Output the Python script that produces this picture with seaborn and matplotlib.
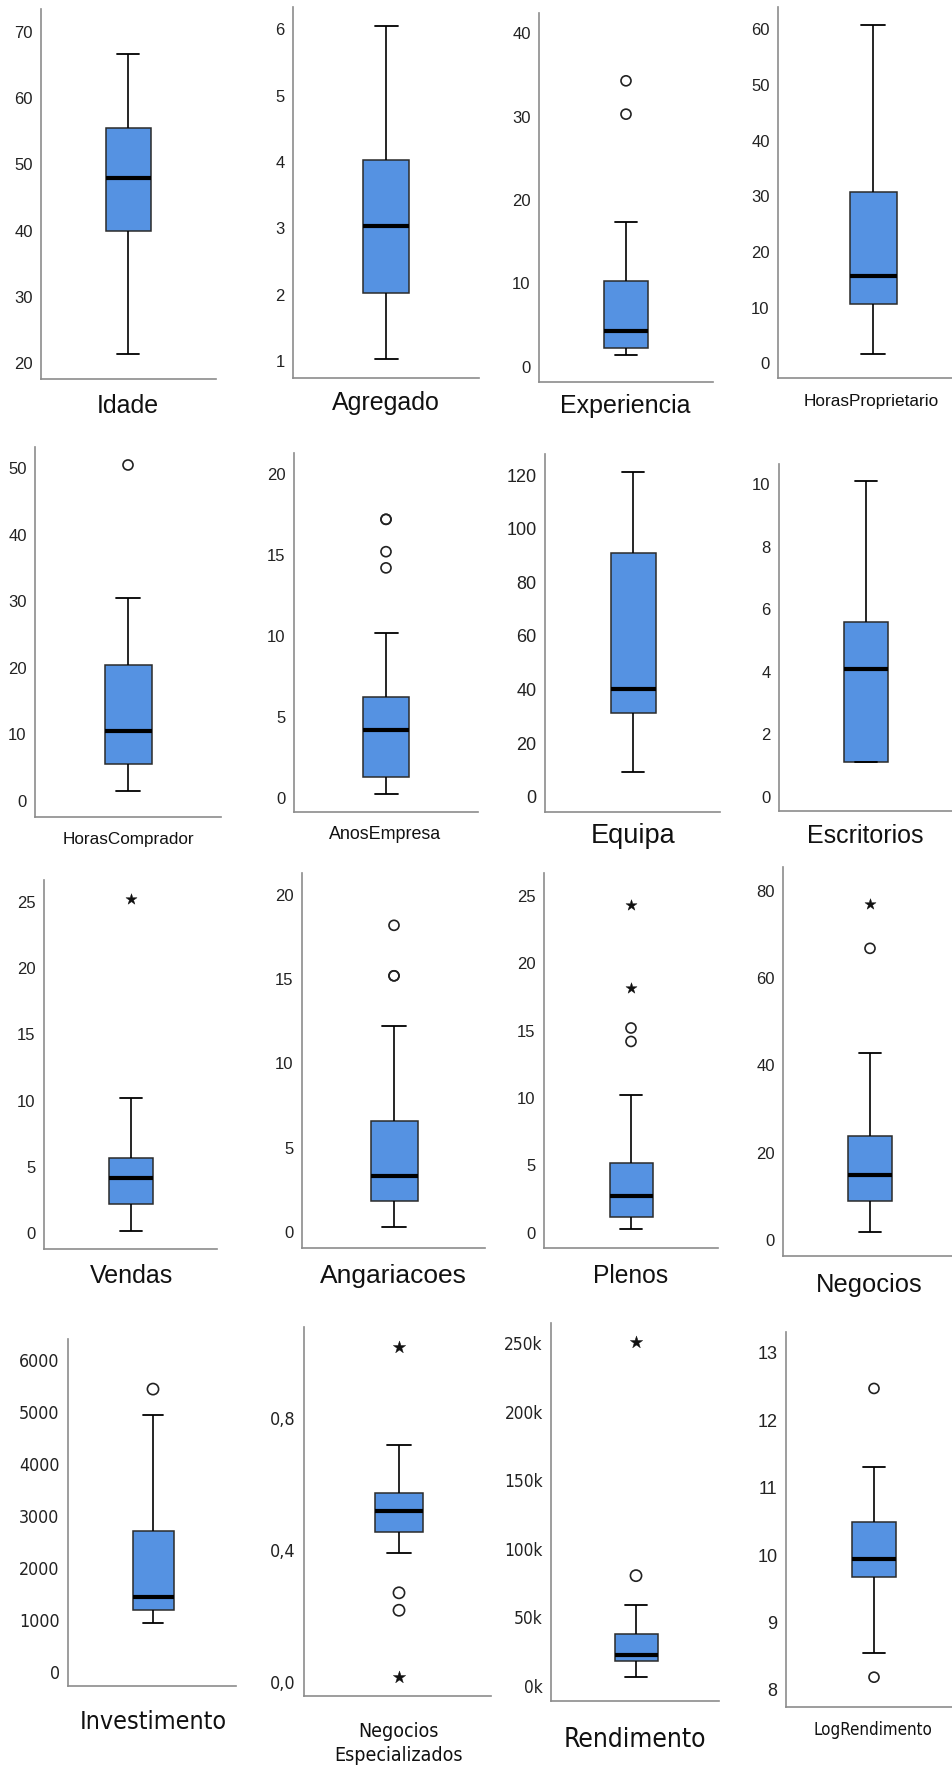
import matplotlib
matplotlib.use("Agg")
import matplotlib.pyplot as plt
from matplotlib import font_manager
from matplotlib.font_manager import FontProperties
import numpy as np
import pandas as pd
import seaborn as sns

# ---------------- data ----------------
variables = ["Idade", "Agregado", "Experiencia", "HorasProprietario",
             "HorasComprador", "AnosEmpresa", "Equipa", "Escritorios",
             "Vendas", "Angariacoes", "Plenos", "Negocios",
             "Investimento", "Negocios\nEspecializados", "Rendimento", "LogRendimento"]

whisker_low = [21.4, 1.03, 1.4, 1.6, 1.5, 0.25, 9.3, 1.1,
               0.2, 0.3, 0.25, 1.75, 930, 0.392, 6800, 8.55]
q1 = [40.0, 2.03, 2.3, 10.6, 5.5, 1.26, 31.2, 1.1,
      2.2, 1.8, 1.2, 8.9, 1190, 0.454, 18500, 9.67]
median = [47.9, 3.03, 4.3, 15.6, 10.5, 4.2, 40.3, 4.1,
          4.2, 3.3, 2.75, 14.9, 1440, 0.517, 22600, 9.94]
q3 = [55.5, 4.03, 10.3, 30.7, 20.4, 6.2, 91.0, 5.6,
      5.7, 6.6, 5.2, 23.8, 2700, 0.572, 37900, 10.49]
whisker_high = [66.6, 6.05, 17.4, 60.7, 30.5, 10.2, 121.2, 10.1,
                10.2, 12.2, 10.25, 42.9, 4950, 0.719, 59400, 11.30]

outliers_circle = [[], [], [30.3, 34.3], [],
                   [50.5], [14.2, 15.2, 17.2, 17.2], [], [],
                   [], [15.2, 15.2, 18.2], [14.2, 15.2], [66.8],
                   [5440], [0.217, 0.270], [80500], [8.19, 12.47]]
outliers_star = [[], [], [], [],
                 [], [], [], [],
                 [25.2], [], [18.2, 24.3], [76.9],
                 [], [0.015, 1.018], [251000], []]

tick_values = [[20, 30, 40, 50, 60, 70], [1, 2, 3, 4, 5, 6], [0, 10, 20, 30, 40],
               [0, 10, 20, 30, 40, 50, 60],
               [0, 10, 20, 30, 40, 50], [0, 5, 10, 15, 20], [0, 20, 40, 60, 80, 100, 120],
               [0, 2, 4, 6, 8, 10],
               [0, 5, 10, 15, 20, 25], [0, 5, 10, 15, 20], [0, 5, 10, 15, 20, 25],
               [0, 20, 40, 60, 80],
               [0, 1000, 2000, 3000, 4000, 5000, 6000], [0.0, 0.4, 0.8],
               [0, 50000, 100000, 150000, 200000, 250000], [8, 9, 10, 11, 12, 13]]
tick_labels = [[str(v) for v in tv] for tv in tick_values]
tick_labels[13] = ["0,0", "0,4", "0,8"]
tick_labels[14] = ["0k", "50k", "100k", "150k", "200k", "250k"]

# ---------------- layout (pixels in a 952 x 1766 canvas) ----------------
W, H = 952, 1766
frames = [(41, 9, 216, 379), (293, 7, 479, 378), (539, 13, 713, 382), (778, 7, 952, 378),
          (35, 447, 221, 817), (294, 453, 478, 812), (545, 454, 720, 812), (779, 464, 952, 811),
          (44, 880, 217, 1249), (302, 873, 485, 1248), (544, 873, 718, 1248), (783, 867, 952, 1256),
          (68, 1339, 236, 1686), (304, 1327, 491, 1696), (551, 1323, 719, 1701), (786, 1332, 952, 1707)]
refs = [(70, 31.7, 20, 363.3), (6, 29.3, 1, 361), (40, 33.3, 0, 366.7), (60, 29.3, 0, 363.3),
        (50, 468.3, 0, 801), (20, 474, 0, 797.7), (120, 475, 0, 796.7), (10, 484.3, 0, 796.7),
        (25, 901.7, 0, 1233.3), (20, 895, 0, 1231.7), (25, 896, 0, 1232.7), (80, 890.7, 0, 1240),
        (6000, 1360, 0, 1671.7), (0.8, 1418.3, 0.0, 1681.7), (250000, 1343.3, 0, 1686),
        (13, 1352.7, 8, 1690)]
box_center = [128, 386, 626, 873, 128, 386, 633, 866, 131, 394, 631, 870, 153, 399, 636, 874]
box_px = [45, 46, 44, 47, 47, 46, 45, 44, 44, 47, 43, 44, 41, 48, 43, 44]
label_pos = [(128, 413), (386, 410), (625, 413), (871, 406),
             (128, 844), (385, 839), (633, 843), (865, 843),
             (132, 1283), (393, 1283), (631, 1283), (869, 1292),
             (153, 1729), (398, 1737), (635, 1747), (873, 1735)]
label_size = [18, 18, 18, 12.4, 12.3, 12.9, 19.5, 18, 18, 19, 17.7, 18.4, 23, 17, 23, 14.5]
# target widths (px) for the narrow-looking labels of the last row
label_width = {12: [148], 13: [80, 128], 14: [143], 15: [118]}
tick_width = {12: 41, 13: 26, 14: 39}
tick_size = [12] * 6 + [13, 12] + [12] * 4 + [16, 16, 16, 13]

# fonts
names = {f.name for f in font_manager.fontManager.ttflist}
REG = "Liberation Sans" if "Liberation Sans" in names else "DejaVu Sans"
if "Liberation Sans Narrow" in names:
    NARROW = dict(family="Liberation Sans Narrow")
elif any(f.name == "DejaVu Sans" and str(f.stretch) in ("condensed", "semi-condensed", "600", "700")
         for f in font_manager.fontManager.ttflist):
    NARROW = dict(family="DejaVu Sans", stretch="condensed")
else:
    NARROW = dict(family=REG)

sns.set_theme(style="white")
plt.rcParams["font.family"] = [REG, "DejaVu Sans"]

BOX_COLOR = "#5592E2"
EDGE = "#2b2b2b"
SPINE = "#8c8c8c"

fig = plt.figure(figsize=(W / 100, H / 100), dpi=100)
fig.patch.set_facecolor("white")
renderer = fig.canvas.get_renderer()


def fit(text_artist, target_px):
    bb = text_artist.get_window_extent(renderer)
    if bb.width > 0:
        text_artist.set_fontsize(text_artist.get_fontsize() * target_px / bb.width)


for i, name in enumerate(variables):
    L, T, R, B = frames[i]
    ax = fig.add_axes([L / W, 1 - B / H, (R - L) / W, (B - T) / H])
    ax.set_facecolor("white")
    v1, y1, v2, y2 = refs[i]
    k = (y2 - y1) / (v1 - v2)
    ytop = v1 + (y1 - T) / k
    ybot = v2 - (B - y2) / k

    stats = pd.DataFrame({"value": [whisker_low[i], q1[i], median[i], q3[i], whisker_high[i]]})
    wfrac = box_px[i] / (R - L)
    sns.boxplot(data=stats, y="value", ax=ax, whis=(0, 100), width=wfrac,
                color=BOX_COLOR, saturation=1, showfliers=False,
                linecolor=EDGE, linewidth=1.1,
                medianprops=dict(color="black", linewidth=3.0),
                whiskerprops=dict(color="black", linewidth=1.2),
                capprops=dict(color="black", linewidth=1.3))
    ms_scale = 1.25 if i >= 12 and i != 15 else 1.0
    if outliers_circle[i]:
        oc = pd.DataFrame({"x": [0.0] * len(outliers_circle[i]), "y": outliers_circle[i]})
        sns.scatterplot(data=oc, x="x", y="y", ax=ax, marker="o", s=52 * ms_scale,
                        fc="none", ec="#222222", linewidth=1.2, zorder=5, legend=False)
    if outliers_star[i]:
        os_ = pd.DataFrame({"x": [0.0] * len(outliers_star[i]), "y": outliers_star[i]})
        sns.scatterplot(data=os_, x="x", y="y", ax=ax, marker="*", s=70 * ms_scale,
                        color="#111111", ec="#111111", linewidth=0.3, zorder=5, legend=False)

    c = box_center[i]
    ax.set_xlim((L - c) / (R - L), (R - c) / (R - L))
    ax.set_ylim(ybot, ytop)
    ax.set_xlabel("")
    ax.set_ylabel("")
    ax.set_xticks([])
    ax.set_yticks(tick_values[i])
    fam = NARROW if i in tick_width else dict(family=REG)
    tls = ax.set_yticklabels(tick_labels[i], fontsize=tick_size[i], color="#222222", **fam)
    ax.tick_params(axis="y", length=0, pad=6)
    if i in tick_width:
        widest = max(tls, key=lambda t: t.get_window_extent(renderer).width)
        bw = widest.get_window_extent(renderer).width
        new = tick_size[i] * tick_width[i] / bw
        for t in tls:
            t.set_fontsize(new)
    for s in ["top", "right"]:
        ax.spines[s].set_visible(False)
    for s in ["left", "bottom"]:
        ax.spines[s].set_color(SPINE)
        ax.spines[s].set_linewidth(1.2)

    lx, ly = label_pos[i]
    lfam = NARROW if i in label_width else dict(family=REG)
    parts = name.split("\n")
    for j, part in enumerate(parts):
        t = fig.text(lx / W, 1 - (ly + 24 * j) / H, part, ha="center", va="baseline",
                     fontsize=label_size[i], color="#111111", **lfam)
        if i in label_width:
            fit(t, label_width[i][j])

fig.savefig("out.png", dpi=100, facecolor="white")
